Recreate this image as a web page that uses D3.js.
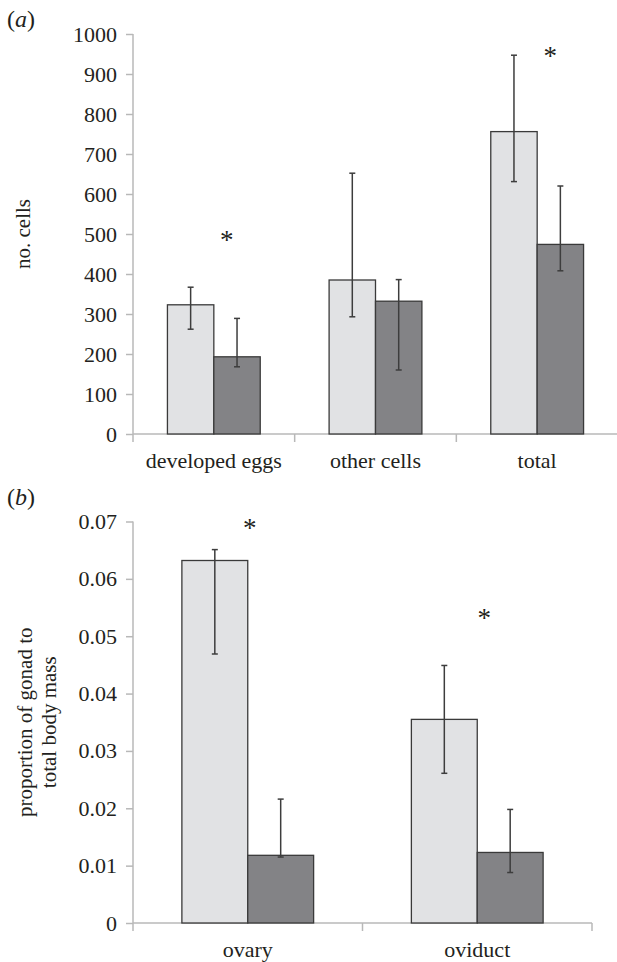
<!DOCTYPE html>
<meta charset="utf-8">
<style>
  body { margin: 0; background: white; }
  svg { font-family: "Liberation Serif", "Times New Roman", serif; }
  .axis path, .axis line { stroke: #b8b8b8; stroke-width: 1.5px; }
  .axis text { fill: #231f20; font-size: 22px; font-family: "Liberation Serif", "Times New Roman", serif; }
</style>
<body>
<div id="chart"></div>
<script src="https://d3js.org/d3.v7.min.js"></script>
<script>

// panel (a) data
var cellCats = ["developed eggs", "other cells", "total"];
var cellLight = [323, 385, 756];
var cellLightLo = [262, 293, 631];
var cellLightHi = [367, 652, 947];
var cellDark = [193, 332, 474];
var cellDarkLo = [168, 160, 408];
var cellDarkHi = [289, 386, 620];
var cellStars = [495, null, 955];
var cellTicks = [0, 100, 200, 300, 400, 500, 600, 700, 800, 900, 1000];

// panel (b) data
var gonadCats = ["ovary", "oviduct"];
var gonadLight = [0.0632, 0.0355];
var gonadLightLo = [0.0469, 0.0261];
var gonadLightHi = [0.0651, 0.0449];
var gonadDark = [0.0118, 0.0123];
var gonadDarkLo = [0.0115, 0.0088];
var gonadDarkHi = [0.0216, 0.0198];
var gonadStars = [0.0696, 0.0539];
var gonadTicks = [0, 0.01, 0.02, 0.03, 0.04, 0.05, 0.06, 0.07];

var series = ["light", "dark"];
var fills = { light: "#e1e2e4", dark: "#838386" };

var width = 617, height = 962;

var svg = d3.select("#chart").append("svg")
    .attr("width", width)
    .attr("height", height);

function drawPanel(cfg) {
  var g = svg.append("g");

  var x = d3.scaleBand()
      .domain(cfg.cats)
      .range(cfg.xRange)
      .paddingInner(0.426)
      .paddingOuter(0.213);

  var x1 = d3.scaleBand()
      .domain(series)
      .range([0, x.bandwidth()]);

  var y = d3.scaleLinear()
      .domain([0, cfg.max])
      .range(cfg.yRange);

  // y axis
  g.append("g")
      .attr("class", "axis")
      .attr("transform", "translate(" + cfg.xRange[0] + ",0)")
      .call(d3.axisLeft(y).tickValues(cfg.ticks).tickSize(7).tickSizeOuter(0).tickPadding(9)
        .tickFormat(cfg.fmt))
      .call(function(a) { a.select(".domain").attr("d", "M0," + y(cfg.max) + "V" + y(0)); });

  // x axis: line plus boundary ticks (excel style)
  var step = x.step();
  var bounds = d3.range(cfg.cats.length + 1).map(function(i) {
    return cfg.xRange[0] + i * step;
  });
  var xa = g.append("g").attr("class", "axis");
  xa.append("line")
      .attr("x1", cfg.xRange[0]).attr("x2", cfg.xRange[1])
      .attr("y1", y(0)).attr("y2", y(0));
  xa.selectAll("line.tk").data(bounds).enter().append("line")
      .attr("class", "tk")
      .attr("x1", function(d) { return d; }).attr("x2", function(d) { return d; })
      .attr("y1", y(0)).attr("y2", y(0) + 8);
  xa.selectAll("text").data(cfg.cats).enter().append("text")
      .attr("x", function(d) { return x(d) + x.bandwidth() / 2; })
      .attr("y", y(0) + cfg.labelDy)
      .attr("text-anchor", "middle")
      .text(function(d) { return d; });

  var rows = cfg.cats.map(function(c, i) {
    return [
      { cat: c, s: "light", v: cfg.light[i], lo: cfg.lightLo[i], hi: cfg.lightHi[i] },
      { cat: c, s: "dark", v: cfg.dark[i], lo: cfg.darkLo[i], hi: cfg.darkHi[i] }
    ];
  }).flat();

  g.selectAll("rect.bar").data(rows).enter().append("rect")
      .attr("class", "bar")
      .attr("x", function(d) { return x(d.cat) + x1(d.s); })
      .attr("y", function(d) { return y(d.v); })
      .attr("width", x1.bandwidth())
      .attr("height", function(d) { return y(0) - y(d.v); })
      .attr("fill", function(d) { return fills[d.s]; })
      .attr("stroke", "#3a3a3a")
      .attr("stroke-width", 1.3);

  // error bars
  var cx = function(d) { return x(d.cat) + x1(d.s) + x1.bandwidth() / 2; };
  var eb = g.selectAll("g.err").data(rows).enter().append("g").attr("class", "err")
      .attr("stroke", "#3d3d3d").attr("stroke-width", 1.5);
  eb.append("line")
      .attr("x1", cx).attr("x2", cx)
      .attr("y1", function(d) { return y(d.lo); })
      .attr("y2", function(d) { return y(d.hi); });
  eb.append("line")
      .attr("x1", function(d) { return cx(d) - 3; }).attr("x2", function(d) { return cx(d) + 3; })
      .attr("y1", function(d) { return y(d.lo); }).attr("y2", function(d) { return y(d.lo); });
  eb.append("line")
      .attr("x1", function(d) { return cx(d) - 3; }).attr("x2", function(d) { return cx(d) + 3; })
      .attr("y1", function(d) { return y(d.hi); }).attr("y2", function(d) { return y(d.hi); });

  // significance stars
  g.selectAll("text.star").data(cfg.cats.map(function(c, i) { return { cat: c, v: cfg.stars[i], off: cfg.starOff[i] }; })
      .filter(function(d) { return d.v != null; }))
    .enter().append("text")
      .attr("class", "star")
      .attr("x", function(d) { return x(d.cat) + x.bandwidth() / 2 + d.off; })
      .attr("y", function(d) { return y(d.v) + 13; })
      .attr("text-anchor", "middle")
      .style("font-size", "27px")
      .attr("fill", "#231f20")
      .text("*");

  // y label
  var mid = (y(0) + y(cfg.max)) / 2;
  var lab = g.append("text")
      .attr("transform", "translate(0," + mid + ") rotate(-90)")
      .attr("text-anchor", "middle")
      .style("font-size", "21px")
      .attr("fill", "#231f20");
  cfg.ylabel.forEach(function(t, i) {
    lab.append("tspan").attr("x", 0).attr("y", cfg.ylabelX[i]).text(t);
  });

  // panel letter
  var pl = svg.append("text")
      .attr("x", 7).attr("y", cfg.letterY)
      .style("font-size", "24px")
      .attr("fill", "#231f20");
  pl.append("tspan").text("(");
  pl.append("tspan").style("font-style", "italic").text(cfg.letter);
  pl.append("tspan").text(")");
}

drawPanel({
  cats: cellCats, light: cellLight, lightLo: cellLightLo, lightHi: cellLightHi,
  dark: cellDark, darkLo: cellDarkLo, darkHi: cellDarkHi,
  stars: cellStars, starOff: [13, 0, 13],
  ticks: cellTicks, max: 1000, fmt: d3.format("d"),
  xRange: [133, 618], yRange: [434, 34],
  labelDy: 34, ylabel: ["no. cells"], ylabelX: [30],
  letter: "a", letterY: 27
});

drawPanel({
  cats: gonadCats, light: gonadLight, lightLo: gonadLightLo, lightHi: gonadLightHi,
  dark: gonadDark, darkLo: gonadDarkLo, darkHi: gonadDarkHi,
  stars: gonadStars, starOff: [2, 7],
  ticks: gonadTicks, max: 0.07, fmt: function(d) { return d === 0 ? "0" : d3.format(".2f")(d); },
  xRange: [133, 592], yRange: [923, 521.5],
  labelDy: 34, ylabel: ["proportion of gonad to", "total body mass"], ylabelX: [32, 56],
  letter: "b", letterY: 505
});

</script>
</body>
